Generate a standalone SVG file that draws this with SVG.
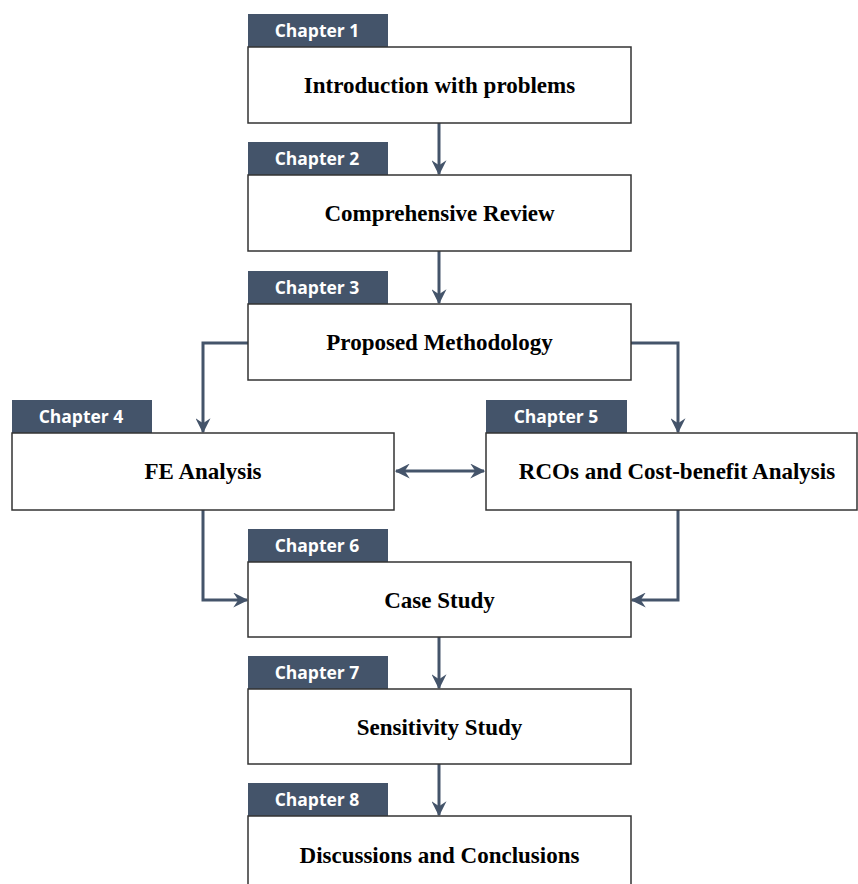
<svg xmlns="http://www.w3.org/2000/svg" width="858" height="884" viewBox="0 0 858 884">
<style>
.tab{fill:#44546A;}
.box{fill:#fff;stroke:#333;stroke-width:1.5;}
.tl{font-family:"Open Sans","Liberation Sans",sans-serif;font-weight:bold;font-size:17.5px;fill:#fff;text-anchor:middle;}
.bt{font-family:"Liberation Serif","Times New Roman",serif;font-weight:bold;font-size:23px;fill:#000;text-anchor:middle;}
.c{fill:none;stroke:#44546A;stroke-width:3;}
</style>
<defs>
<marker id="ah" viewBox="0 0 12 12" refX="11" refY="6" markerWidth="5" markerHeight="5" orient="auto-start-reverse" markerUnits="strokeWidth">
<path d="M0,0 L12,6 L0,12 L4,6 z" fill="#44546A"/>
</marker>
</defs>
<rect width="858" height="884" fill="#fff"/>
<g id="connectors">
<path class="c" d="M439,123 V174" marker-end="url(#ah)"/>
<path class="c" d="M439,251 V303" marker-end="url(#ah)"/>
<path class="c" d="M248,343 H203 V432" marker-end="url(#ah)"/>
<path class="c" d="M631,343 H678 V432" marker-end="url(#ah)"/>
<path class="c" d="M396,471 H484" marker-start="url(#ah)" marker-end="url(#ah)"/>
<path class="c" d="M203,510 V600 H247" marker-end="url(#ah)"/>
<path class="c" d="M678,510 V600 H632" marker-end="url(#ah)"/>
<path class="c" d="M439,637 V688" marker-end="url(#ah)"/>
<path class="c" d="M439,764 V815" marker-end="url(#ah)"/>
</g>
<g id="ch1">
<rect class="tab" x="248" y="14" width="140" height="33"/>
<text class="tl" x="317" y="37">Chapter 1</text>
<rect class="box" x="248" y="47" width="383" height="76"/>
<text class="bt" x="439.5" y="93">Introduction with problems</text>
</g>
<g id="ch2">
<rect class="tab" x="248" y="142" width="140" height="33"/>
<text class="tl" x="317" y="165">Chapter 2</text>
<rect class="box" x="248" y="175" width="383" height="76"/>
<text class="bt" x="439.5" y="221">Comprehensive Review</text>
</g>
<g id="ch3">
<rect class="tab" x="248" y="271" width="140" height="33"/>
<text class="tl" x="317" y="294">Chapter 3</text>
<rect class="box" x="248" y="304" width="383" height="76"/>
<text class="bt" x="439.5" y="350">Proposed Methodology</text>
</g>
<g id="ch4">
<rect class="tab" x="12" y="400" width="140" height="33"/>
<text class="tl" x="81" y="423">Chapter 4</text>
<rect class="box" x="12" y="433" width="382" height="77"/>
<text class="bt" x="203" y="479">FE Analysis</text>
</g>
<g id="ch5">
<rect class="tab" x="486" y="400" width="141" height="33"/>
<text class="tl" x="556" y="423">Chapter 5</text>
<rect class="box" x="486" y="433" width="371" height="77"/>
<text class="bt" x="677" y="479">RCOs and Cost-benefit Analysis</text>
</g>
<g id="ch6">
<rect class="tab" x="248" y="529" width="140" height="33"/>
<text class="tl" x="317" y="552">Chapter 6</text>
<rect class="box" x="248" y="562" width="383" height="75"/>
<text class="bt" x="439.5" y="608">Case Study</text>
</g>
<g id="ch7">
<rect class="tab" x="248" y="656" width="140" height="33"/>
<text class="tl" x="317" y="679">Chapter 7</text>
<rect class="box" x="248" y="689" width="383" height="75"/>
<text class="bt" x="439.5" y="735">Sensitivity Study</text>
</g>
<g id="ch8">
<rect class="tab" x="248" y="783" width="140" height="33"/>
<text class="tl" x="317" y="806">Chapter 8</text>
<rect class="box" x="248" y="816" width="383" height="90"/>
<text class="bt" x="439.5" y="863">Discussions and Conclusions</text>
</g>
</svg>
